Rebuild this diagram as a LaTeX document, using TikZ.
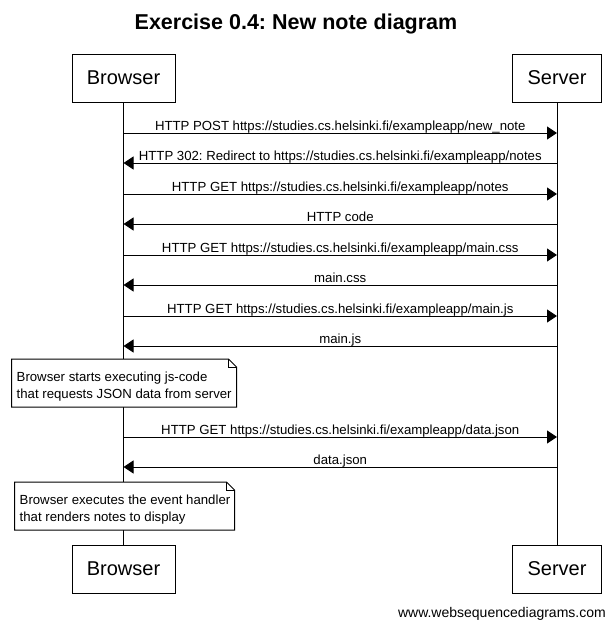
\documentclass[tikz,border=0pt]{standalone}
\usepackage{fontspec}
\setmainfont{Liberation Sans}
\usetikzlibrary{arrows.meta}
\frenchspacing
\begin{document}
\begin{tikzpicture}[x=1pt,y=-1pt,
  actor/.style={draw,line width=1pt,fill=white,minimum width=103pt,minimum height=48pt,font=\fontsize{20}{24}\selectfont,inner sep=0pt},
  actorS/.style={actor,minimum width=89pt},
  msg/.style={line width=1pt,-{Triangle[length=10pt,width=13pt]}},
  lbl/.style={font=\fontsize{13.2}{15}\selectfont,inner sep=0pt,anchor=base},
  life/.style={line width=1pt},
  notetxt/.style={font=\fontsize{13.2}{16.8}\selectfont,align=left,inner sep=0pt,anchor=north west},
  notebox/.style={draw,line width=1pt,fill=white}
]
\useasboundingbox[fill=white] (0,0) rectangle (616,627);
\node[font=\bfseries\fontsize{21.5}{25}\selectfont,anchor=base,inner sep=0pt] (title) at (296,29.5) {Exercise 0.4: New note diagram};
% actors
\node[actor] (bt) at (123.5,78) {Browser};
\node[actorS] (st) at (557,78) {Server};
\node[actor] (bb) at (123.5,569) {Browser};
\node[actorS] (sb) at (557,569) {Server};
\draw[life] (bt.south) -- (bb.north);
\draw[life] (st.south) -- (sb.north);
% message coordinates
\foreach \y in {133,163,194,224,255,285,316,346,437,467}{
  \coordinate (b\y) at (123.5,\y);
  \coordinate (s\y) at (557,\y);
}
\draw[msg] (b133) -- (s133) node[lbl,midway,yshift=3pt] (m1) {HTTP POST https://studies.cs.helsinki.fi/exampleapp/new\_note};
\draw[msg] (s163) -- (b163) node[lbl,midway,yshift=3pt] (m2) {HTTP 302: Redirect to https://studies.cs.helsinki.fi/exampleapp/notes};
\draw[msg] (b194) -- (s194) node[lbl,midway,yshift=3pt] (m3) {HTTP GET https://studies.cs.helsinki.fi/exampleapp/notes};
\draw[msg] (s224) -- (b224) node[lbl,midway,yshift=3pt] (m4) {HTTP code};
\draw[msg] (b255) -- (s255) node[lbl,midway,yshift=3pt] (m5) {HTTP GET https://studies.cs.helsinki.fi/exampleapp/main.css};
\draw[msg] (s285) -- (b285) node[lbl,midway,yshift=3pt] (m6) {main.css};
\draw[msg] (b316) -- (s316) node[lbl,midway,yshift=3pt] (m7) {HTTP GET https://studies.cs.helsinki.fi/exampleapp/main.js};
\draw[msg] (s346) -- (b346) node[lbl,midway,yshift=3pt] (m8) {main.js};
\draw[msg] (b437) -- (s437) node[lbl,midway,yshift=3pt] (m9) {HTTP GET https://studies.cs.helsinki.fi/exampleapp/data.json};
\draw[msg] (s467) -- (b467) node[lbl,midway,yshift=3pt] (m10) {data.json};
% note 1
\coordinate (n1a) at (11.5,359);
\coordinate (n1b) at (236.5,407);
\draw[notebox] (n1a) -- (228.5,359) -- (236.5,367) -- (n1b) -- (11.5,407) -- cycle;
\draw[line width=1pt] (228.5,359) -- (228.5,367) -- (236.5,367);
\node[notetxt] (n1) at (16.5,372) {Browser starts executing js-code\\that requests JSON data from server};
% note 2
\coordinate (n2a) at (14.5,482);
\coordinate (n2b) at (234.5,530);
\draw[notebox] (n2a) -- (226.5,482) -- (234.5,490) -- (n2b) -- (14.5,530) -- cycle;
\draw[line width=1pt] (226.5,482) -- (226.5,490) -- (234.5,490);
\node[notetxt] (n2) at (19.5,495) {Browser executes the event handler\\that renders notes to display};
% watermark
\node[font=\fontsize{14}{16}\selectfont,anchor=base east,inner sep=0pt] (wm) at (606,617) {www.websequencediagrams.com};
\end{tikzpicture}
\end{document}
